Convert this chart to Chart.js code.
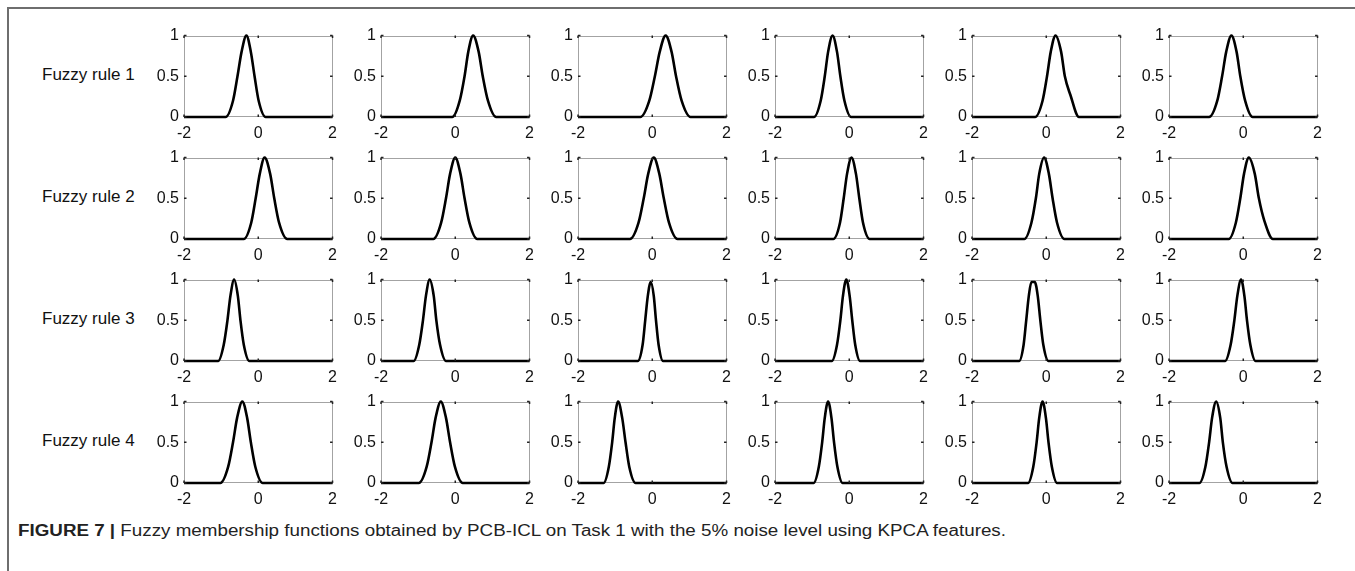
<!DOCTYPE html>
<html>
<head>
<meta charset="utf-8">
<script src="https://cdn.jsdelivr.net/npm/chart.js@4.4.1/dist/chart.umd.min.js"></script>
<style>
  html, body { margin: 0; padding: 0; background: #fff; }
  body { width: 1355px; height: 571px; position: relative; overflow: hidden; font-family: Arial, "Liberation Sans", sans-serif; }
  .frameL { position: absolute; left: 7px; top: 7px; width: 2px; height: 564px; background: #6e6e6e; }
  .frameT { position: absolute; left: 7px; top: 7px; width: 1348px; height: 2px; background: #6e6e6e; }
  canvas { position: absolute; }
  .rule { position: absolute; font-size: 17px; color: #111; white-space: nowrap; line-height: 20px; }
  #caption { position: absolute; left: 18px; top: 521px; font-size: 16px; color: #222; white-space: nowrap; line-height: 20px; transform-origin: left center; }
  #caption b { color: #222; }
</style>
</head>
<body>
<div class="frameL"></div>
<div class="frameT"></div>
<div id="caption"><b>FIGURE 7 |</b> Fuzzy membership functions obtained by PCB-ICL on Task 1 with the 5% noise level using KPCA features.</div>
<script>
// ---- data ----
const ruleLabels = ['Fuzzy rule 1', 'Fuzzy rule 2', 'Fuzzy rule 3', 'Fuzzy rule 4'];
const xTicks = [-2, 0, 2];
const yTicks = [0, 0.5, 1];

const rule1X = [
  [-2, -0.88, -0.68, -0.56, -0.45, -0.32, -0.20, -0.10, 0.01, 0.20, 2],
  [-2, -0.08, 0.12, 0.25, 0.35, 0.48, 0.63, 0.74, 0.88, 1.10, 2],
  [-2, -0.32, -0.08, 0.07, 0.20, 0.36, 0.52, 0.64, 0.79, 1.03, 2],
  [-2, -0.95, -0.77, -0.66, -0.57, -0.45, -0.33, -0.24, -0.13, 0.05, 2],
  [-2, -0.30, -0.10, 0.02, 0.12, 0.25, 0.40, 0.50, 0.65, 0.88, 2],
  [-2, -0.92, -0.70, -0.57, -0.46, -0.32, -0.18, -0.08, 0.05, 0.25, 2]
];
const rule1Y = [
  [0, 0, 0.2, 0.5, 0.8, 1, 0.8, 0.5, 0.2, 0, 0],
  [0, 0, 0.2, 0.5, 0.8, 1, 0.8, 0.5, 0.2, 0, 0],
  [0, 0, 0.2, 0.5, 0.8, 1, 0.8, 0.5, 0.2, 0, 0],
  [0, 0, 0.2, 0.5, 0.8, 1, 0.8, 0.5, 0.2, 0, 0],
  [0, 0, 0.2, 0.5, 0.8, 1, 0.8, 0.5, 0.27, 0, 0],
  [0, 0, 0.2, 0.5, 0.8, 1, 0.8, 0.5, 0.2, 0, 0]
];

const rule2X = [
  [-2, -0.39, -0.19, -0.07, 0.04, 0.17, 0.32, 0.43, 0.56, 0.78, 2],
  [-2, -0.59, -0.38, -0.25, -0.14, 0.00, 0.14, 0.25, 0.38, 0.59, 2],
  [-2, -0.60, -0.37, -0.23, -0.11, 0.04, 0.19, 0.31, 0.45, 0.68, 2],
  [-2, -0.43, -0.25, -0.15, -0.06, 0.06, 0.18, 0.27, 0.37, 0.55, 2],
  [-2, -0.59, -0.40, -0.28, -0.19, -0.06, 0.07, 0.17, 0.29, 0.49, 2],
  [-2, -0.39, -0.20, -0.08, 0.02, 0.15, 0.31, 0.42, 0.57, 0.80, 2]
];
const rule2Y = [
  [0, 0, 0.2, 0.5, 0.8, 1, 0.8, 0.5, 0.2, 0, 0],
  [0, 0, 0.2, 0.5, 0.8, 1, 0.8, 0.5, 0.2, 0, 0],
  [0, 0, 0.2, 0.5, 0.8, 1, 0.8, 0.5, 0.2, 0, 0],
  [0, 0, 0.2, 0.5, 0.8, 1, 0.8, 0.5, 0.2, 0, 0],
  [0, 0, 0.2, 0.5, 0.8, 1, 0.8, 0.5, 0.2, 0, 0],
  [0, 0, 0.2, 0.5, 0.8, 1, 0.8, 0.5, 0.22, 0, 0]
];

const rule3X = [
  [-2, -1.08, -0.93, -0.83, -0.75, -0.65, -0.55, -0.48, -0.39, -0.24, 2],
  [-2, -1.12, -0.97, -0.87, -0.79, -0.69, -0.58, -0.51, -0.41, -0.25, 2],
  [-2, -0.39, -0.26, -0.19, -0.12, -0.04, 0.04, 0.10, 0.17, 0.29, 2],
  [-2, -0.47, -0.33, -0.24, -0.17, -0.08, 0.01, 0.08, 0.16, 0.29, 2],
  [-2, -0.73, -0.61, -0.54, -0.47, -0.40, -0.31, -0.23, -0.16, -0.08, 0.06, 2],
  [-2, -0.49, -0.34, -0.24, -0.16, -0.06, 0.03, 0.10, 0.19, 0.33, 2]
];
const rule3Y = [
  [0, 0, 0.2, 0.5, 0.8, 1, 0.8, 0.5, 0.2, 0, 0],
  [0, 0, 0.2, 0.5, 0.8, 1, 0.8, 0.5, 0.2, 0, 0],
  [0, 0, 0.2, 0.5, 0.8, 0.97, 0.8, 0.5, 0.2, 0, 0],
  [0, 0, 0.2, 0.5, 0.8, 1, 0.8, 0.5, 0.2, 0, 0],
  [0, 0, 0.2, 0.5, 0.8, 0.97, 0.97, 0.8, 0.5, 0.2, 0, 0],
  [0, 0, 0.2, 0.5, 0.8, 1, 0.8, 0.5, 0.2, 0, 0]
];

const rule4X = [
  [-2, -1.02, -0.81, -0.68, -0.57, -0.43, -0.30, -0.20, -0.08, 0.12, 2],
  [-2, -0.98, -0.77, -0.64, -0.53, -0.39, -0.25, -0.14, -0.01, 0.20, 2],
  [-2, -1.31, -1.17, -1.08, -1.01, -0.92, -0.81, -0.72, -0.62, -0.45, 2],
  [-2, -0.96, -0.82, -0.73, -0.66, -0.57, -0.48, -0.41, -0.32, -0.18, 2],
  [-2, -0.49, -0.35, -0.26, -0.19, -0.10, -0.01, 0.06, 0.15, 0.29, 2],
  [-2, -1.18, -1.02, -0.92, -0.84, -0.73, -0.62, -0.55, -0.45, -0.29, 2]
];
const rule4Y = [
  [0, 0, 0.2, 0.5, 0.8, 1, 0.8, 0.5, 0.2, 0, 0],
  [0, 0, 0.2, 0.5, 0.8, 1, 0.8, 0.5, 0.2, 0, 0],
  [0, 0, 0.2, 0.5, 0.8, 1, 0.8, 0.5, 0.2, 0, 0],
  [0, 0, 0.2, 0.5, 0.8, 1, 0.8, 0.5, 0.2, 0, 0],
  [0, 0, 0.2, 0.5, 0.8, 1, 0.8, 0.5, 0.2, 0, 0],
  [0, 0, 0.2, 0.5, 0.8, 1, 0.8, 0.5, 0.2, 0, 0]
];

const allX = [rule1X, rule2X, rule3X, rule4X];
const allY = [rule1Y, rule2Y, rule3Y, rule4Y];

// ---- layout ----
const BOX_W = 150, BOX_H = 86;
const colLeft = [184, 381, 578, 775, 972, 1169];
const rowTop = [31, 153, 275, 397];
const PAD_L = 40, PAD_T = 10, PAD_R = 10, PAD_B = 28;
const FONT = { family: 'Arial, "Liberation Sans", sans-serif', size: 16 };

const boxPlugin = {
  id: 'boxPlugin',
  beforeDatasetsDraw(chart) {
    const { ctx, chartArea: a } = chart;
    ctx.save();
    ctx.strokeStyle = '#a3a3a3';
    ctx.lineWidth = 1;
    ctx.strokeRect(Math.round(a.left) + 0.5, Math.round(a.top) + 0.5, Math.round(a.width) - 1, Math.round(a.height) - 1);
    ctx.restore();
  },
  afterDatasetsDraw(chart) {
    const { ctx, chartArea: a, scales } = chart;
    ctx.save();
    ctx.strokeStyle = '#222';
    ctx.lineWidth = 1.5;
    ctx.beginPath();
    scales.x.ticks.forEach(t => {
      const px = scales.x.getPixelForValue(t.value);
      ctx.moveTo(px, a.bottom); ctx.lineTo(px, a.bottom - 2.5);
      ctx.moveTo(px, a.top); ctx.lineTo(px, a.top + 2.5);
    });
    scales.y.ticks.forEach(t => {
      const py = scales.y.getPixelForValue(t.value);
      ctx.moveTo(a.left, py); ctx.lineTo(a.left + 2.5, py);
      ctx.moveTo(a.right, py); ctx.lineTo(a.right - 2.5, py);
    });
    ctx.stroke();
    ctx.restore();
  }
};

for (let r = 0; r < 4; r++) {
  const lab = document.createElement('div');
  lab.className = 'rule';
  lab.textContent = ruleLabels[r];
  lab.style.left = '42px';
  lab.style.top = (rowTop[r] + BOX_H / 2 - 9) + 'px';
  document.body.appendChild(lab);

  for (let c = 0; c < 6; c++) {
    const cv = document.createElement('canvas');
    const W = BOX_W + PAD_L + PAD_R, H = BOX_H + PAD_T + PAD_B;
    cv.width = W; cv.height = H;
    cv.style.width = W + 'px'; cv.style.height = H + 'px';
    cv.style.left = (colLeft[c] - PAD_L) + 'px';
    cv.style.top = (rowTop[r] - PAD_T) + 'px';
    document.body.appendChild(cv);

    const xs = allX[r][c], ys = allY[r][c];
    const pts = xs.map((x, i) => ({ x: x, y: ys[i] }));

    new Chart(cv, {
      type: 'line',
      data: { datasets: [{ data: pts, borderColor: '#000', borderWidth: 2.6, pointRadius: 0,
        cubicInterpolationMode: 'monotone', fill: false, clip: 6 }] },
      options: {
        responsive: false, animation: false, devicePixelRatio: 1,
        layout: { padding: { left: 0, right: PAD_R, top: PAD_T, bottom: 0 } },
        plugins: { legend: { display: false }, tooltip: { enabled: false } },
        scales: {
          x: {
            type: 'linear', min: -2, max: 2,
            afterBuildTicks: s => { s.ticks = xTicks.map(v => ({ value: v })); },
            afterFit: s => { s.height = PAD_B; },
            grid: { display: false, drawTicks: false },
            border: { display: false },
            ticks: { color: '#111', font: FONT, padding: 7, maxRotation: 0, autoSkip: false,
              callback: v => String(v) }
          },
          y: {
            type: 'linear', min: 0, max: 1,
            afterBuildTicks: s => { s.ticks = yTicks.map(v => ({ value: v })); },
            afterFit: s => { s.width = PAD_L; },
            grid: { display: false, drawTicks: false },
            border: { display: false },
            ticks: { color: '#111', font: FONT, padding: 5, autoSkip: false,
              callback: v => String(v) }
          }
        }
      },
      plugins: [boxPlugin]
    });
  }
}

// fit caption to the reference width
const cap = document.getElementById('caption');
const w = cap.getBoundingClientRect().width;
cap.style.transform = 'scaleX(' + (988 / w).toFixed(4) + ')';
</script>
</body>
</html>
